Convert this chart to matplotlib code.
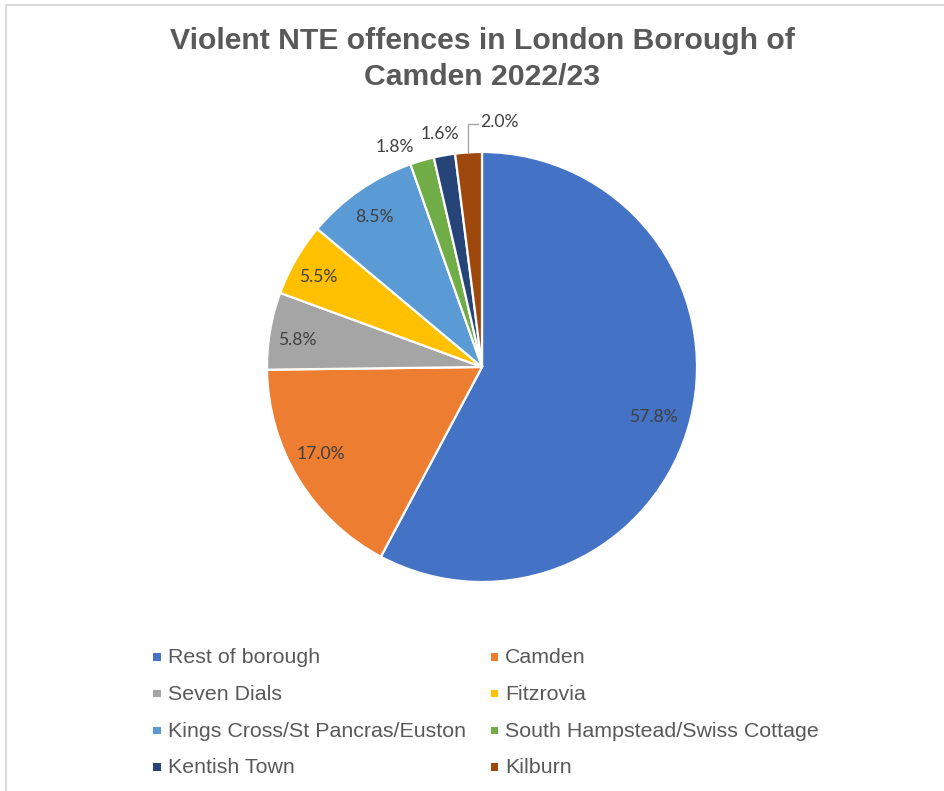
import matplotlib
matplotlib.use("Agg")
import matplotlib.pyplot as plt
from matplotlib.patches import Rectangle
from matplotlib.lines import Line2D
import numpy as np

# --- data -------------------------------------------------------------
areas = ["Rest of borough", "Camden", "Seven Dials", "Fitzrovia",
         "Kings Cross/St Pancras/Euston", "South Hampstead/Swiss Cottage",
         "Kentish Town", "Kilburn"]
shares = [57.8, 17.0, 5.8, 5.5, 8.5, 1.8, 1.6, 2.0]
colors = ["#4472C4", "#ED7D31", "#A5A5A5", "#FFC000",
          "#5B9BD5", "#70AD47", "#264478", "#9E480E"]
title_lines = ["Violent NTE offences in London Borough of", "Camden 2022/23"]

# --- figure / layout (pixel based) -----------------------------------
W, H = 944, 791
fig = plt.figure(figsize=(W / 100, H / 100), dpi=100)
fig.patch.set_facecolor("white")

def fx(px):
    return px / W

def fy(py):
    return 1 - py / H

# chart-area frame (top and left edges visible)
frame_col = "#D9D9D9"
fig.add_artist(Line2D([fx(6), fx(6)], [0, fy(5)], color=frame_col, lw=1.5))
fig.add_artist(Line2D([fx(6), 1], [fy(5), fy(5)], color=frame_col, lw=1.5))

# title
for i, line in enumerate(title_lines):
    fig.text(fx(482), fy(49.3 + 36 * i), line, ha="center", va="baseline",
             fontsize=21.7, fontweight="bold", color="#595959",
             family="Liberation Sans")

# pie axes: centre (482, 367) px, radius 215 px
R = 215
lim = 1.25
cx, cy = 482, 367
aw = 2 * lim * R
ax = fig.add_axes([fx(cx - aw / 2), fy(cy + aw / 2), aw / W, aw / H])
wedges, _ = ax.pie(shares, colors=colors, startangle=90, counterclock=False,
                   radius=1, wedgeprops=dict(edgecolor="white", linewidth=1.6))
ax.set_xlim(-lim, lim)
ax.set_ylim(-lim, lim)
ax.set_aspect("equal")
ax.axis("off")

# percentage labels: radial distance and small angular nudge per slice
label_r = [0.83, 0.85, 0.87, 0.87, 0.86, 1.10, 1.10, None]
label_dtheta = [-2.2, -2.8, 1.4, 1.3, 1.0, 5.4, 0.2, 0.0]
lab_kw = dict(fontsize=12.6, color="#404040", family="Lato",
              ha="center", va="center")
for w, v, r, dt in zip(wedges, shares, label_r, label_dtheta):
    mid = np.deg2rad((w.theta1 + w.theta2) / 2)
    txt = f"{v:.1f}%"
    if r is not None:
        a = mid + np.deg2rad(dt)
        ax.text(r * np.cos(a), r * np.sin(a), txt, **lab_kw)
    else:
        # leader line for the narrow slice next to 12 o'clock
        x0, y0 = np.cos(mid), np.sin(mid)
        ytop = 1.13
        ax.plot([x0, x0, x0 + 0.046], [y0, ytop, ytop], color="#A6A6A6",
                lw=1.0, solid_joinstyle="miter")
        ax.text(x0 + 0.056, ytop + 0.01, txt, fontsize=12.6, color="#404040",
                family="Lato", ha="left", va="center")

# legend: two columns, row-wise order
col_marker_x = [153, 491]
col_text_x = [168, 505]
row_y0, row_dy = 655.7, 36.7
msz = 7.5
for i, (name, c) in enumerate(zip(areas, colors)):
    row, col = divmod(i, 2)
    yc = row_y0 + row_dy * row
    fig.add_artist(Rectangle((fx(col_marker_x[col]), fy(yc + 1.3 + msz / 2)),
                             msz / W, msz / H, facecolor=c, edgecolor="none",
                             transform=fig.transFigure))
    fig.text(fx(col_text_x[col]), fy(yc + 7.6), name, ha="left", va="baseline",
             fontsize=15.4, color="#595959", family="Liberation Sans")

fig.savefig("out.png", dpi=100, facecolor="white")
